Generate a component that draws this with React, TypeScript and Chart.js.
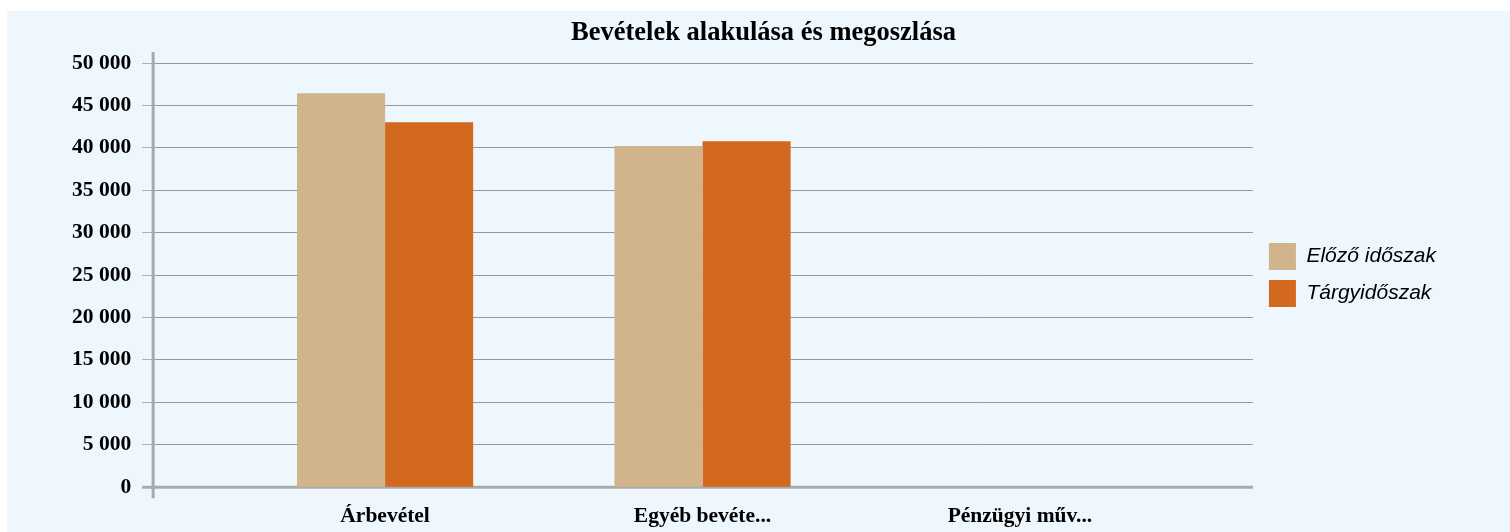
import React, { useEffect, useRef } from "react";
import { Chart, registerables } from "chart.js";

Chart.register(...registerables);

const categories = ["Árbevétel", "Egyéb bevéte...", "Pénzügyi műv..."];
const previousPeriod = [46430, 40220, 0];
const currentPeriod = [43020, 40780, 0];
const seriesNames = ["Előző időszak", "Tárgyidőszak"];
const seriesColors = ["#D2B48C", "#D2691E"];
const titleText = "Bevételek alakulása és megoszlása";

const fmt = (v: number) => String(v).replace(/\B(?=(\d{3})+(?!\d))/g, " ");

const axisLines = {
  id: "axisLines",
  afterLayout(chart: any) {
    const t = chart.titleBlock;
    if (t) {
      t.left += 13;
      t.right += 13;
    }
    const l = chart.legend;
    if (l) {
      l.left += 6;
      l.right += 6;
      l.top -= 3.5;
      l.bottom -= 3.5;
    }
  },
  beforeDatasetsDraw(chart: any) {
    const { ctx, chartArea } = chart;
    ctx.save();
    ctx.strokeStyle = "#aaaaaa";
    ctx.lineWidth = 3;
    ctx.beginPath();
    ctx.moveTo(chartArea.left, chartArea.top - 11);
    ctx.lineTo(chartArea.left, chartArea.bottom + 11);
    ctx.moveTo(chartArea.left - 11, chartArea.bottom);
    ctx.lineTo(chartArea.right, chartArea.bottom);
    ctx.stroke();
    ctx.restore();
  },
};

export default function App() {
  const ref = useRef<HTMLCanvasElement | null>(null);
  useEffect(() => {
    if (!ref.current) return;
    const chart = new Chart(ref.current, {
      type: "bar",
      data: {
        datasets: [
          {
            label: seriesNames[0],
            data: previousPeriod.map((y, i) => ({ x: i, y })),
            backgroundColor: seriesColors[0],
            borderWidth: 0,
          },
          {
            label: seriesNames[1],
            data: currentPeriod.map((y, i) => ({ x: i, y })),
            backgroundColor: seriesColors[1],
            borderWidth: 0,
          },
        ],
      },
      plugins: [axisLines],
      options: {
        responsive: false,
        animation: false,
        layout: { padding: { left: 54, right: 70, top: 0, bottom: 5 } },
        datasets: { bar: { barPercentage: 1, categoryPercentage: 0.555 } },
        scales: {
          x: {
            type: "linear",
            offset: false,
            min: -0.7307,
            max: 2.7339,
            grid: { display: false, drawTicks: false, offset: false },
            border: { display: false },
            afterBuildTicks: (scale: any) => {
              scale.ticks = [0, 1, 2].map((v) => ({ value: v }));
            },
            ticks: {
              padding: 16.5,
              color: "#000",
              font: { family: "'Liberation Serif', serif", size: 21.5, weight: "bold" },
              callback: (v: any) => categories[v as number] ?? "",
              maxRotation: 0,
              autoSkip: false,
            },
          },
          y: {
            min: 0,
            max: 50000,
            grid: { color: "#999999", lineWidth: 1, tickLength: 11, tickColor: "#b0b0b0" },
            border: { display: false },
            ticks: {
              stepSize: 5000,
              padding: 11,
              color: "#000",
              font: { family: "'Liberation Serif', serif", size: 21.5, weight: "bold" },
              callback: (v: any) => fmt(v as number),
            },
          },
        },
        plugins: {
          title: {
            display: true,
            text: titleText,
            color: "#000",
            font: { family: "'Liberation Serif', serif", size: 26.5, weight: "bold" },
            padding: { top: 6, bottom: 14.2 },
          },
          legend: {
            position: "right",
            labels: {
              boxWidth: 27,
              boxHeight: 27,
              padding: 10,
              color: "#000",
              font: { family: "'Liberation Sans', Arial, sans-serif", size: 21, style: "italic" },
            },
          },
          tooltip: { enabled: false },
        },
      } as any,
    });
    return () => chart.destroy();
  }, []);
  return (
    <div style={{ position: "absolute", left: 7, top: 11, width: 1503, height: 521, overflow: "hidden", background: "#EEF6FE" }}>
      <canvas ref={ref} width={1503} height={540} style={{ display: "block" }} />
    </div>
  );
}
